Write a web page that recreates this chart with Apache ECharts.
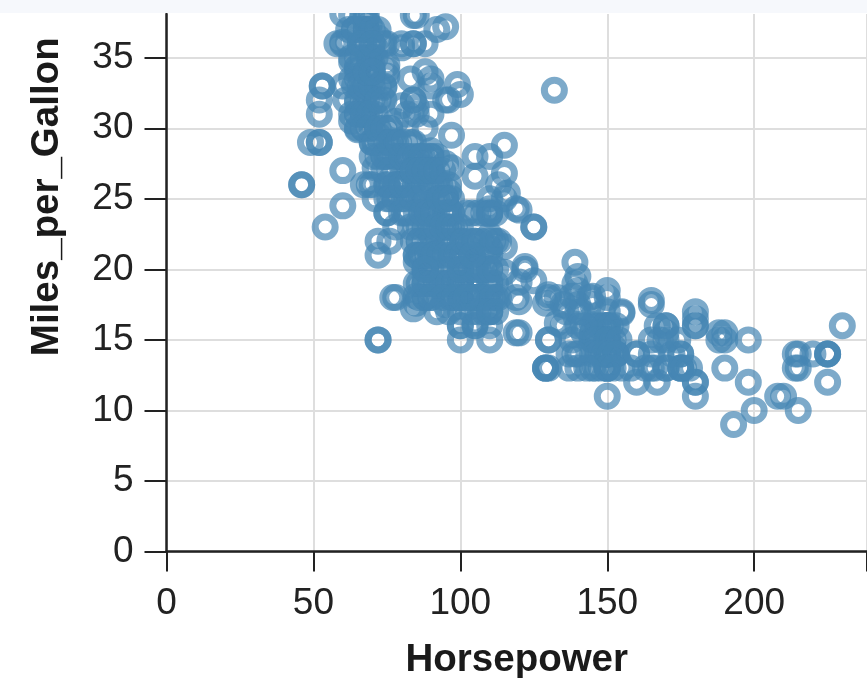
<!DOCTYPE html>
<html>
<head>
<meta charset="utf-8">
<style>html,body{margin:0;padding:0;background:#fff}#chart{width:867px;height:678px}</style>
<script src="https://cdn.jsdelivr.net/npm/echarts@6/dist/echarts.min.js"></script>
</head>
<body>
<div id="chart"></div>
<script>
const horsepower = [
130,165,150,150,140,198,220,215,225,190,170,160,150,225,95,95,97,85,88,46,
87,90,95,113,90,215,200,210,193,88,90,95,100,105,100,88,100,165,175,153,
150,180,170,175,110,72,100,88,86,90,70,76,65,69,60,70,95,80,54,90,
86,165,175,150,153,150,208,155,160,190,97,150,130,140,150,112,76,87,69,86,
92,97,80,88,175,150,145,137,150,198,150,158,150,215,225,175,105,100,100,88,
95,46,150,167,170,180,100,88,72,94,90,85,107,90,145,230,49,75,91,112,
150,110,122,180,95,100,100,67,80,65,75,100,110,105,140,150,150,140,150,83,
67,78,52,61,75,75,75,97,93,67,95,105,72,72,170,145,150,148,110,105,
110,95,110,110,129,75,83,100,78,96,71,97,97,70,90,95,88,98,115,53,
86,81,92,79,83,140,150,120,152,100,105,81,90,52,60,70,53,100,78,110,
95,72,150,180,145,130,150,68,80,58,96,70,145,110,145,130,110,105,100,98,
180,170,190,149,78,88,75,89,63,83,67,78,97,110,110,48,66,52,70,60,
110,140,139,105,95,85,88,100,90,105,85,110,120,145,165,139,140,68,95,97,
75,95,105,85,97,103,125,115,133,71,68,115,85,88,90,110,130,129,138,135,
155,142,125,150,71,65,80,80,77,125,71,90,70,70,65,69,90,115,115,90,
76,60,70,95,105,85,110,120,65,155,90,90,88,72,84,84,92,110,84,52,
88,48,60,67,65,62,68,63,65,65,74,75,75,100,74,80,76,116,120,110,
105,88,85,88,88,88,85,84,90,92,74,68,68,63,70,88,75,70,67,67,
110,85,92,112,96,84,90,86,52,84,79,82,60,65,62,64,74,63,88,67,
132,99,95,77,119,119,119,122,165,167,180,180,188,188,214,214,225,129,129,84
];
const milesPerGallon = [
18,15,18,16,17,15,14,14,14,15,15,14,15,14,24,22,18,21,27,26,
25,24,25,26,21,10,10,11,9,27,28,25,19,16,17,19,18,14,14,14,
14,12,13,13,18,22,19,18,23,28,30,30,31,35,27,26,24,25,23,20,
21,13,14,15,14,17,11,13,12,13,19,15,13,13,14,18,22,21,26,22,
28,23,28,27,13,14,13,14,15,12,13,13,14,13,12,13,18,16,18,18,
23,26,11,12,13,12,18,20,21,22,18,19,21,26,15,16,29,24,20,19,
15,24,20,11,20,19,15,31,26,32,25,16,16,18,16,13,14,14,14,29,
26,26,31,32,28,24,26,24,26,31,19,18,15,15,16,15,16,14,17,16,
15,18,21,20,13,29,23,20,23,24,25,24,18,29,19,23,23,22,25,33,
28,25,25,26,27,17.5,16,15.5,14.5,22,22,24,22.5,29,24.5,29,33,20,18,18.5,
17.5,29.5,15.5,16.5,15.5,15,13,32.5,36,36,25.5,33.5,17.5,17,15.5,15,17.5,20.5,19,18.5,
16,15.5,15.5,16,29,24.5,26,25.5,30.5,33.5,30,30.5,22,21.5,21.5,43,36,32,39,36,
19,19.5,20.5,20.2,25.1,20.5,19.4,20.6,20.8,18.6,18.1,19.2,17.7,18.1,17.5,19,18.5,31.9,27.5,27.2,
34.1,21.6,16.2,31.5,29.5,21.5,23,19.8,16.2,35.7,37,21.6,27.4,25.4,23.2,23.9,18.2,17.6,18.1,17.5,
16.9,15.5,19.2,18.5,31.9,34.1,35.7,27.4,25.4,23,27.2,23.9,34.2,34.5,31.8,37.3,28.4,28.8,26.8,33.5,
41.5,38.1,32.1,37.2,28,26.4,24.3,19.1,34.3,17,31,33,30,36.4,32,38,37,28,36,29,
27.2,43.1,36.1,32.8,39.4,36.1,37.7,34.7,34.4,29.9,33,34.5,33.7,32.4,32.9,31.6,28.1,25.4,24.2,22.4,
26.6,20.2,17.6,28,27,34,31,29,27,24,36,37,31,38,36,36,36,34,38,32,
25,38,26,22,32,36,27,27,44,32,28,31,33,33.5,37,37,28,33.5,23,36,
32.7,33.1,32,18,24.3,18,15.5,20.2,17.8,16,17,16,15,15.5,14,13,14,13,13,17.2
];
const denseHorsepower = [
64,66,68,70,72,63,65,67,69,71,64,66,68,70,72,63,65,67,69,71,
66,68,70,72,74,65,67,69,71,73,68,70,72,74,76,70,72,74,76,78,
74,76,78,80,82,76,78,80,82,84,80,82,84,86,88,79,81,83,85,87,
84,86,88,90,92,94,96,85,87,89,91,93,95,97,84,86,88,90,92,94,
96,98,100,85,87,89,91,93,95,97,99,101,86,88,90,92,94,96,98,100,
102,104,106,108,110,112,101,103,105,107,109,111,113,102,104,106,108,110,112,103,
105,107,109,111,113,104,106,108,110,112,86,90,94,98,102,88,92,96,100,104
];
const denseMilesPerGallon = [
37,37,37,37,37,35,35,35,35,35,33,33,33,33,33,31,31,31,31,31,
36,34,34,32,32,30,30,30,29,29,38,36,30,30,30,28,28,28,29,28,
27,27,26,28,28,25,25,26,26,27,24,24,25,25,26,29,29,28,28,28,
27,27,27,27,27,27,26,24,24,24,24,25,25,25,22,22,22,22,23,23,
23,23,23,21,21,21,21,21,21,21,21,21,19,19,19,19,19,19,19,19,
24,24,24,24,24,24,22,22,22,22,22,22,22,20,20,20,20,20,20,18,
18,18,18,18,18,17,17,17,17,17,18,18,18,18,18,20,17,17,20,21
];
const rightClusterHorsepower = [
145,147,149,151,153,146,148,150,152,154,145,147,149,151,153,146,148,150,152,135,
138,141,144,133,136,139,142,137,143,160,163,168,172,176,166,170,174,178
];
const rightClusterMilesPerGallon = [
16,16,16,16,16,15,15,15,15,15,14,14,14,14,14,13,13,13,13,16,
15,17,18,18,17,14,16,13,13,14,13,15,14,13,13,16,15,13
];
const xTickLabels = [0, 50, 100, 150, 200];
const yTickLabels = [0, 5, 10, 15, 20, 25, 30, 35];
const xTitle = 'Horsepower';
const yTitle = 'Miles_per_Gallon';

const toPoints = (xs, ys) => xs.map((x, i) => [x, ys[i]]);
const points = toPoints(horsepower, milesPerGallon)
  .concat(toPoints(denseHorsepower, denseMilesPerGallon))
  .concat(toPoints(rightClusterHorsepower, rightClusterMilesPerGallon));
const font = '"Liberation Sans", Arial, sans-serif';
const chart = echarts.init(document.getElementById('chart'), null, {renderer: 'canvas'});
chart.setOption({
  animation: false,
  backgroundColor: '#ffffff',
  grid: {left: 166.5, top: 14, width: 700.5, height: 537.5, containLabel: false, outerBoundsMode: 'none'},
  xAxis: {
    type: 'value', min: 0, max: 238.4, interval: 50,
    name: xTitle, nameLocation: 'middle', nameGap: 89,
    nameTextStyle: {fontFamily: font, fontWeight: 'bold', fontSize: 38.5, color: '#1a1a1a'},
    axisLine: {show: true, onZero: false, lineStyle: {color: '#222', width: 2.5}},
    axisTick: {show: true, length: 20, lineStyle: {color: '#222', width: 2}},
    axisLabel: {show: true, customValues: xTickLabels, hideOverlap: false, margin: 34, fontFamily: font, fontSize: 37, color: '#222'},
    splitLine: {show: true, lineStyle: {color: '#dedede', width: 2}}
  },
  yAxis: {
    type: 'value', min: 0, max: 38.1, interval: 5,
    name: yTitle, nameLocation: 'middle', nameGap: 100, nameRotate: 90,
    nameTextStyle: {fontFamily: font, fontWeight: 'bold', fontSize: 38.5, color: '#1a1a1a', padding: [0, 0, 0, 172]},
    axisLine: {show: true, onZero: false, lineStyle: {color: '#222', width: 2.5}},
    axisTick: {show: true, length: 22, customValues: yTickLabels, lineStyle: {color: '#222', width: 2}},
    axisLabel: {show: true, customValues: yTickLabels, margin: 33, fontFamily: font, fontSize: 37, color: '#222'},
    splitLine: {show: true, lineStyle: {color: '#dedede', width: 2}}
  },
  series: [{
    type: 'scatter',
    data: points,
    clip: false,
    symbol: 'circle',
    symbolSize: 20,
    itemStyle: {color: 'rgba(0,0,0,0)', borderColor: '#4686b4', borderWidth: 7, opacity: 0.7}
  }],
  graphic: [{
    type: 'rect', z: 100, silent: true,
    shape: {x: 0, y: 0, width: 867, height: 13},
    style: {fill: '#f6f8fc'}
  }]
});
</script>
</body>
</html>
